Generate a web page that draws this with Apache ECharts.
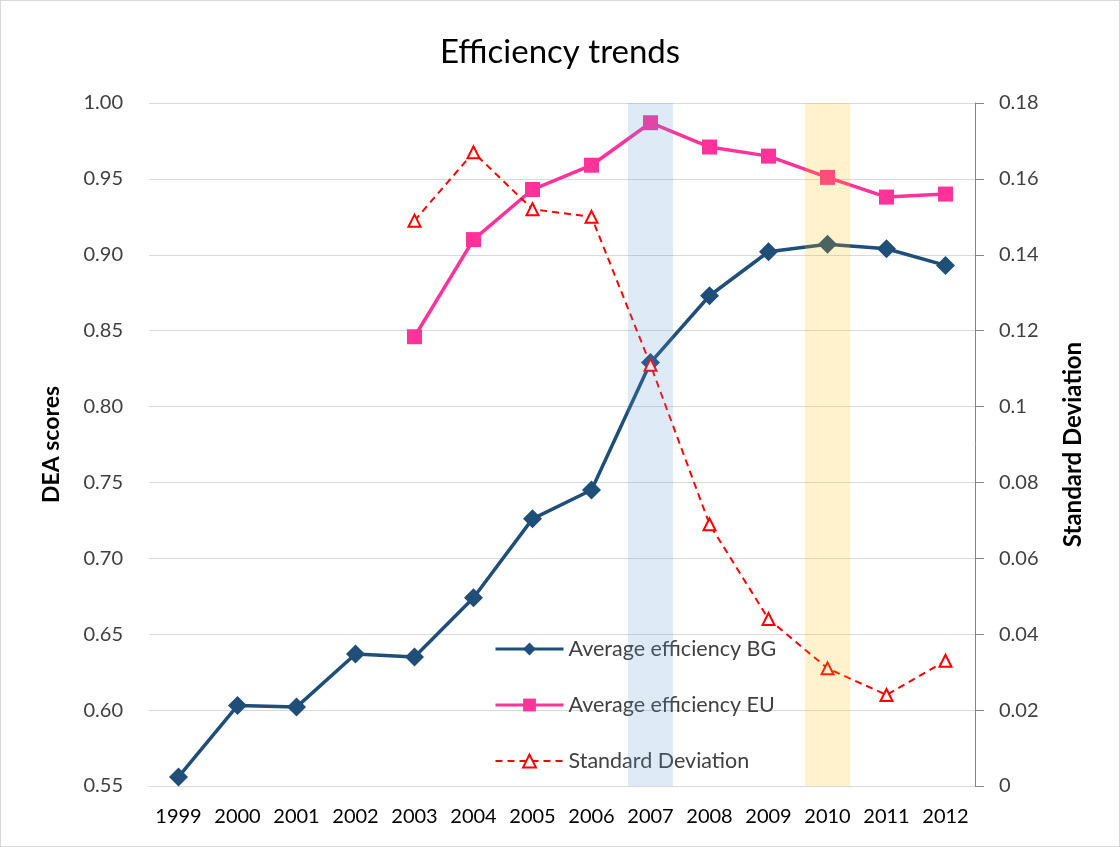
<!DOCTYPE html>
<html>
<head>
<meta charset="utf-8">
<script src="https://cdn.jsdelivr.net/npm/echarts@6/dist/echarts.min.js"></script>
<style>
  html, body { margin: 0; padding: 0; background: #fff; }
  #chart { width: 1120px; height: 847px; box-sizing: border-box; border: 1px solid #d9d9d9; }
</style>
</head>
<body>
<div id="chart"></div>
<script>
// data
const years = ['1999', '2000', '2001', '2002', '2003', '2004', '2005', '2006', '2007', '2008', '2009', '2010', '2011', '2012'];
const avgBG = [0.556, 0.603, 0.602, 0.637, 0.635, 0.674, 0.726, 0.745, 0.829, 0.873, 0.902, 0.907, 0.904, 0.893];
const avgEU = [null, null, null, null, 0.846, 0.910, 0.943, 0.959, 0.987, 0.971, 0.965, 0.951, 0.938, 0.940];
const stdDev = [null, null, null, null, 0.149, 0.167, 0.152, 0.150, 0.111, 0.069, 0.044, 0.031, 0.024, 0.033];
// highlighted years (shaded bands)
const bandYears = ['2007', '2010'];
const bandColors = ['rgba(91,155,213,0.2)', 'rgba(255,192,0,0.2)'];

const font = 'Lato, "Open Sans", sans-serif';
const chart = echarts.init(document.getElementById('chart'));

const bandData = years.map(y => {
  const k = bandYears.indexOf(y);
  if (k < 0) return null;
  return { value: 1.0, itemStyle: { color: bandColors[k] } };
});

const option = {
  backgroundColor: '#fff',
  textStyle: { fontFamily: font },
  title: {
    text: 'Efficiency trends',
    left: 'center',
    top: 30,
    textStyle: { fontFamily: font, fontSize: 33, fontWeight: 'normal', color: '#000' }
  },
  grid: { left: 148, right: 144, top: 102, bottom: 60 },
  legend: {
    orient: 'vertical',
    left: 493,
    top: 637,
    padding: 0,
    itemWidth: 68,
    itemHeight: 16,
    itemGap: 34,
    data: [
      { name: 'Average efficiency BG', lineStyle: { width: 3 } },
      { name: 'Average efficiency EU', lineStyle: { width: 3 } },
      { name: 'Standard Deviation', lineStyle: { width: 2 } }
    ],
    textStyle: { fontFamily: font, fontSize: 21.5, color: '#404040', padding: [0, 0, 0, 0] }
  },
  xAxis: {
    type: 'category',
    data: years,
    axisLine: { lineStyle: { color: '#d9d9d9', width: 1 } },
    axisTick: { show: false },
    axisLabel: { interval: 0, fontFamily: font, fontSize: 20, color: '#000', margin: 21 }
  },
  yAxis: [
    {
      type: 'value',
      min: 0.55,
      max: 1.0,
      interval: 0.05,
      name: 'DEA scores',
      nameLocation: 'middle',
      nameGap: 86,
      nameTextStyle: { fontFamily: font, fontSize: 23, fontWeight: 'bold', color: '#000' },
      axisLine: { show: false },
      axisTick: { show: false },
      splitLine: { lineStyle: { color: '#d9d9d9' } },
      axisLabel: { fontFamily: font, fontSize: 20, color: '#404040', margin: 26, formatter: v => v.toFixed(2) }
    },
    {
      type: 'value',
      min: 0,
      max: 0.18,
      interval: 0.02,
      name: 'Standard Deviation',
      nameLocation: 'middle',
      nameGap: 86,
      nameRotate: 90,
      nameTextStyle: { fontFamily: font, fontSize: 24, fontWeight: 'bold', color: '#000' },
      axisLine: { show: true, lineStyle: { color: '#868686' } },
      axisTick: { show: true, length: 9, lineStyle: { color: '#868686' } },
      splitLine: { show: false },
      axisLabel: { fontFamily: font, fontSize: 20, color: '#404040', margin: 24 }
    }
  ],
  series: [
    {
      name: 'Average efficiency BG',
      type: 'line',
      data: avgBG,
      yAxisIndex: 0,
      symbol: 'diamond',
      symbolSize: 19,
      lineStyle: { color: '#1f4e79', width: 3.5 },
      itemStyle: { color: '#1f4e79' },
      z: 3
    },
    {
      name: 'Average efficiency EU',
      type: 'line',
      data: avgEU,
      yAxisIndex: 0,
      symbol: 'rect',
      symbolSize: 15,
      lineStyle: { color: '#ff3399', width: 3.5 },
      itemStyle: { color: '#ff3399' },
      z: 3
    },
    {
      name: 'Standard Deviation',
      type: 'line',
      data: stdDev,
      yAxisIndex: 1,
      symbol: 'triangle',
      symbolSize: 12,
      lineStyle: { color: '#ff0000', width: 2, type: [7, 5] },
      itemStyle: { color: '#fff', borderColor: '#ff0000', borderWidth: 2 },
      z: 3
    },
    {
      name: 'bands',
      type: 'bar',
      data: bandData,
      yAxisIndex: 0,
      barWidth: 45,
      barGap: '-100%',
      silent: true,
      z: 10
    }
  ]
};
chart.setOption(option);
</script>
</body>
</html>
